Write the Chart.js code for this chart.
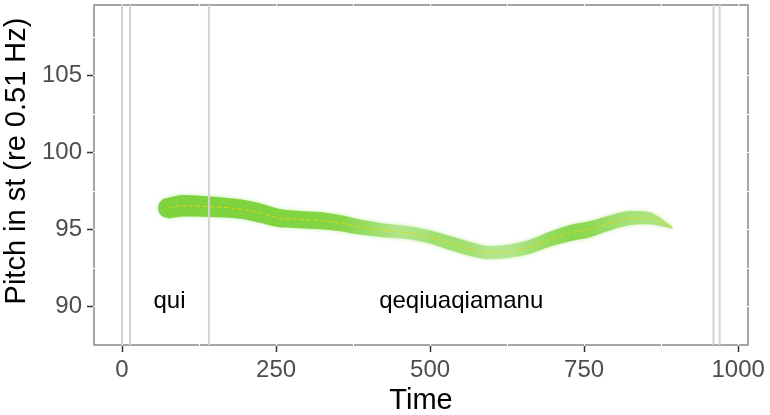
<!DOCTYPE html>
<html>
<head>
<meta charset="utf-8">
<script src="https://cdn.jsdelivr.net/npm/chart.js@4"></script>
<style>
  body { margin: 0; background: #fff; }
  #wrap { width: 770px; height: 415px; }
</style>
</head>
<body>
<div id="wrap"><canvas id="pitch"></canvas></div>
<script>
// pitch track, sampled along the utterance
const times = [75, 99, 143, 192, 224, 256, 289, 321, 354, 386, 419, 451, 468, 500, 532, 565, 597, 630, 662, 695, 727, 760, 792, 825, 857, 873, 894];
const pitch = [96.36, 96.51, 96.45, 96.30, 96.04, 95.71, 95.62, 95.54, 95.39, 95.13, 94.94, 94.82, 94.74, 94.48, 94.09, 93.70, 93.46, 93.57, 93.85, 94.35, 94.74, 95.00, 95.39, 95.71, 95.69, 95.47, 95.06];
const intensity = [77, 78, 77, 76, 76, 75, 74, 74, 73, 72, 71, 70, 70, 70, 71, 71, 70, 70, 71, 72, 73, 73, 72, 71, 69, 66, 59];
const strength = [0.95, 0.95, 0.95, 0.95, 0.95, 0.93, 0.92, 0.9, 0.85, 0.7, 0.5, 0.3, 0.35, 0.5, 0.55, 0.5, 0.3, 0.3, 0.5, 0.7, 0.8, 0.75, 0.6, 0.45, 0.4, 0.4, 0.4];

// segmentation
const boundaries = [0, 13, 141, 960, 970];
const words = ['qui', 'qeqiuaqiamanu'];
const wordStart = [13, 141];
const wordEnd = [141, 960];
const labelPitch = 90.3;

// axes
const xTicks = [0, 250, 500, 750, 1000];
const yTicks = [90, 95, 100, 105];
const xRange = [-45.5, 1016];
const yRange = [87.47, 109.55];

const FONT = '"Liberation Sans", Arial, sans-serif';
const dark = [122, 210, 56];
const light = [204, 238, 176];
const stPerDb = 0.07;   // ribbon thickness in semitones per dB above floor
const dbFloor = 58;

function ribbonColor(i) {
  const s = strength[i];
  const c = dark.map((d, k) => Math.round(light[k] + (d - light[k]) * s));
  return `rgb(${c[0]},${c[1]},${c[2]})`;
}
const halfWidth = i => Math.max(0.05, (intensity[i] - dbFloor) * stPerDb / 2);

function midpoints(ticks, lo, hi) {
  const step = ticks[1] - ticks[0];
  const out = [];
  for (let v = ticks[0] - step / 2; v < hi; v += step) {
    if (v > lo + step * 0.05 && v < hi - step * 0.05) out.push(v);
  }
  return out;
}

const track = times.map((t, i) => ({ x: t, y: pitch[i] }));
const upper = times.map((t, i) => ({ x: t, y: pitch[i] + halfWidth(i) }));
const lower = times.map((t, i) => ({ x: t, y: pitch[i] - halfWidth(i) }));

function ribbonGradient(c) {
  const { chart } = c;
  if (!chart.chartArea) return ribbonColor(0);
  const x = chart.scales.x;
  const x0 = x.getPixelForValue(times[0]);
  const x1 = x.getPixelForValue(times[times.length - 1]);
  const g = chart.ctx.createLinearGradient(x0, 0, x1, 0);
  times.forEach((t, i) => g.addColorStop((x.getPixelForValue(t) - x0) / (x1 - x0), ribbonColor(i)));
  return g;
}

const boundaryLines = boundaries.map(b => ({
  data: [{ x: b, y: yRange[0] }, { x: b, y: yRange[1] }],
  borderColor: '#d3d3d3',
  borderWidth: 2,
  pointRadius: 0,
  clip: 2
}));

// panel frame, cut by the white grid
const panelFrame = {
  id: 'panelFrame',
  beforeDatasetsDraw(chart) {
    const { ctx, chartArea: a, scales: { x, y } } = chart;
    ctx.save();
    ctx.strokeStyle = '#888';
    ctx.lineWidth = 1.5;
    ctx.strokeRect(a.left, a.top, a.right - a.left, a.bottom - a.top);
    ctx.strokeStyle = '#fff';
    ctx.lineWidth = 1;
    const gx = xTicks.concat(midpoints(xTicks, xRange[0], xRange[1]));
    const gy = yTicks.concat(midpoints(yTicks, yRange[0], yRange[1]));
    gx.forEach(v => {
      const px = Math.round(x.getPixelForValue(v)) + 0.5;
      ctx.beginPath();
      ctx.moveTo(px, a.top - 1); ctx.lineTo(px, a.top + 1);
      ctx.moveTo(px, a.bottom - 1); ctx.lineTo(px, a.bottom + 1);
      ctx.stroke();
    });
    gy.forEach(v => {
      const py = Math.round(y.getPixelForValue(v)) + 0.5;
      ctx.beginPath();
      ctx.moveTo(a.left - 1, py); ctx.lineTo(a.left + 1, py);
      ctx.moveTo(a.right - 1, py); ctx.lineTo(a.right + 1, py);
      ctx.stroke();
    });
    ctx.restore();
  }
};

// soft halo on the ribbon: the lower edge dataset is drawn first, the filled
// upper one right after it, so the shadow settings span both
const softRibbon = {
  id: 'softRibbon',
  beforeDatasetDraw(chart, args) {
    const ds = chart.data.datasets[args.index];
    const { ctx, scales: { x, y } } = chart;
    if (ds.ribbonEdge === 'lower') {
      ctx.save();
      ctx.shadowColor = 'rgba(150, 220, 100, 0.55)';
      ctx.shadowBlur = 4;
    }
    if (ds.ribbonEdge === 'upper') {
      // rounded onset of the track
      const cx = x.getPixelForValue(times[0]);
      const top = y.getPixelForValue(upper[0].y);
      const bot = y.getPixelForValue(lower[0].y);
      ctx.beginPath();
      ctx.fillStyle = ribbonColor(0);
      ctx.arc(cx, (top + bot) / 2, (bot - top) / 2, 0, Math.PI * 2);
      ctx.fill();
    }
  },
  afterDatasetDraw(chart, args) {
    if (chart.data.datasets[args.index].ribbonEdge === 'upper') chart.ctx.restore();
  }
};

const wordLabels = {
  id: 'wordLabels',
  afterDatasetsDraw(chart) {
    const { ctx, scales: { x, y } } = chart;
    ctx.save();
    ctx.font = '24px ' + FONT;
    ctx.fillStyle = '#000';
    ctx.textAlign = 'center';
    ctx.textBaseline = 'middle';
    words.forEach((w, i) => {
      const mid = (wordStart[i] + wordEnd[i]) / 2;
      ctx.fillText(w, x.getPixelForValue(mid), y.getPixelForValue(labelPitch));
    });
    ctx.restore();
  }
};

// y axis title
const yTitle = {
  id: 'yTitle',
  afterDraw(chart) {
    const { ctx } = chart;
    ctx.save();
    ctx.translate(17, 161);
    ctx.rotate(-Math.PI / 2);
    ctx.font = '29px ' + FONT;
    ctx.fillStyle = '#000';
    ctx.textAlign = 'center';
    ctx.textBaseline = 'middle';
    ctx.fillText('Pitch in st (re 0.51 Hz)', 0, 0);
    ctx.restore();
  }
};

const tickFont = { family: FONT, size: 24 };
const titleFont = { family: FONT, size: 29, lineHeight: 1 };

new Chart(document.getElementById('pitch'), {
  type: 'line',
  data: {
    datasets: [
      ...boundaryLines,
      {
        data: track,
        borderColor: 'rgba(245, 212, 0, 0.9)',
        borderWidth: 1,
        borderDash: [4, 3],
        pointRadius: 0,
        cubicInterpolationMode: 'monotone'
      },
      {
        ribbonEdge: 'upper',
        data: upper,
        borderWidth: 0,
        pointRadius: 0,
        cubicInterpolationMode: 'monotone',
        fill: '+1',
        backgroundColor: ribbonGradient
      },
      {
        ribbonEdge: 'lower',
        data: lower,
        borderWidth: 0,
        pointRadius: 0,
        cubicInterpolationMode: 'monotone',
        fill: false
      }
    ]
  },
  options: {
    responsive: true,
    maintainAspectRatio: false,
    animation: false,
    events: [],
    layout: { padding: { left: 0, right: 22, top: 5, bottom: 0 } },
    plugins: { legend: { display: false }, tooltip: { enabled: false } },
    scales: {
      x: {
        type: 'linear',
        min: xRange[0],
        max: xRange[1],
        afterFit: s => { s.height = 70; s.paddingLeft = 0; s.paddingRight = 0; },
        afterBuildTicks: s => { s.ticks = xTicks.map(v => ({ value: v })); },
        grid: { drawOnChartArea: false, tickLength: 7, tickColor: '#333', tickWidth: 1.5 },
        border: { display: false },
        ticks: { color: '#4d4d4d', font: tickFont, padding: 4, maxRotation: 0, callback: v => String(v) },
        title: { display: true, text: 'Time', color: '#000', font: titleFont, padding: { top: 0, bottom: 0 } }
      },
      y: {
        min: yRange[0],
        max: yRange[1],
        afterFit: s => { s.width = 94; s.paddingTop = 0; s.paddingBottom = 0; },
        afterBuildTicks: s => { s.ticks = yTicks.map(v => ({ value: v })); },
        grid: { drawOnChartArea: false, tickLength: 7, tickColor: '#333', tickWidth: 1.5 },
        border: { display: false },
        ticks: { color: '#4d4d4d', font: tickFont, padding: 5, callback: v => String(v) }
      }
    }
  },
  plugins: [panelFrame, softRibbon, wordLabels, yTitle]
});
</script>
</body>
</html>
